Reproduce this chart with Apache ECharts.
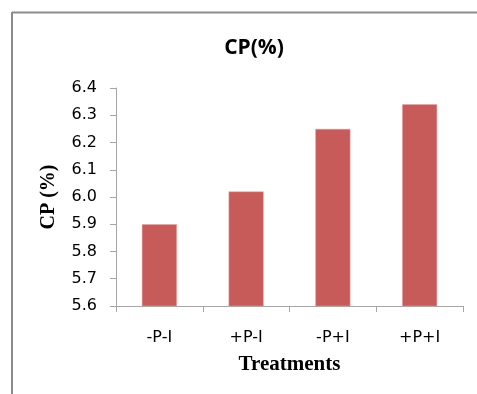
<!DOCTYPE html>
<html><head><meta charset="utf-8">
<script src="https://cdn.jsdelivr.net/npm/echarts@6/dist/echarts.min.js"></script>
<style>html,body{margin:0;padding:0;background:#fff}#c{width:477px;height:394px}</style>
</head><body><div id="c"></div>
<script>
var categories = ['-P-I', '+P-I', '-P+I', '+P+I'];
var cpValues = [5.90, 6.02, 6.25, 6.34];
var chart = echarts.init(document.getElementById('c'), null, {renderer: 'canvas'});
chart.setOption({
  animation: false,
  backgroundColor: '#fff',
  title: {
    text: 'CP(%)', left: 249, top: 33, textAlign: 'center',
    textStyle: {fontFamily: 'Open Sans', fontWeight: 'bold', fontSize: 21, color: '#000'}
  },
  grid: {left: 116, right: 14, top: 88, bottom: 88},
  xAxis: {
    type: 'category', data: categories,
    name: 'Treatments', nameLocation: 'middle', nameGap: 48,
    nameTextStyle: {fontFamily: 'Liberation Serif', fontWeight: 'bold', fontSize: 21, color: '#000'},
    axisLine: {lineStyle: {color: '#A6A6A6', width: 1}},
    axisTick: {show: true, length: 6, lineStyle: {color: '#A6A6A6'}},
    axisLabel: {fontFamily: 'DejaVu Sans', fontSize: 16, color: '#000', margin: 24}
  },
  yAxis: {
    type: 'value', min: 5.6, max: 6.4, interval: 0.1,
    name: 'CP (%)', nameLocation: 'middle', nameGap: 57,
    nameTextStyle: {fontFamily: 'Liberation Serif', fontWeight: 'bold', fontSize: 20, color: '#000'},
    axisLine: {show: true, lineStyle: {color: '#A6A6A6', width: 1}},
    axisTick: {show: true, length: 6, lineStyle: {color: '#A6A6A6'}},
    splitLine: {show: false},
    axisLabel: {fontFamily: 'DejaVu Sans', fontSize: 16, color: '#000', margin: 19,
      formatter: function (v) { return v.toFixed(1); }}
  },
  series: [{
    type: 'bar', data: cpValues, barWidth: 35,
    itemStyle: {color: '#C65B59', borderColor: '#E2A3A1', borderWidth: 0.5}
  }],
  graphic: [
    {type: 'line', shape: {x1: 12, y1: 12.5, x2: 477, y2: 12.5}, style: {stroke: '#8C8C8C', lineWidth: 2}},
    {type: 'line', shape: {x1: 12, y1: 12, x2: 12, y2: 394}, style: {stroke: '#8C8C8C', lineWidth: 2}}
  ]
});
</script></body></html>
